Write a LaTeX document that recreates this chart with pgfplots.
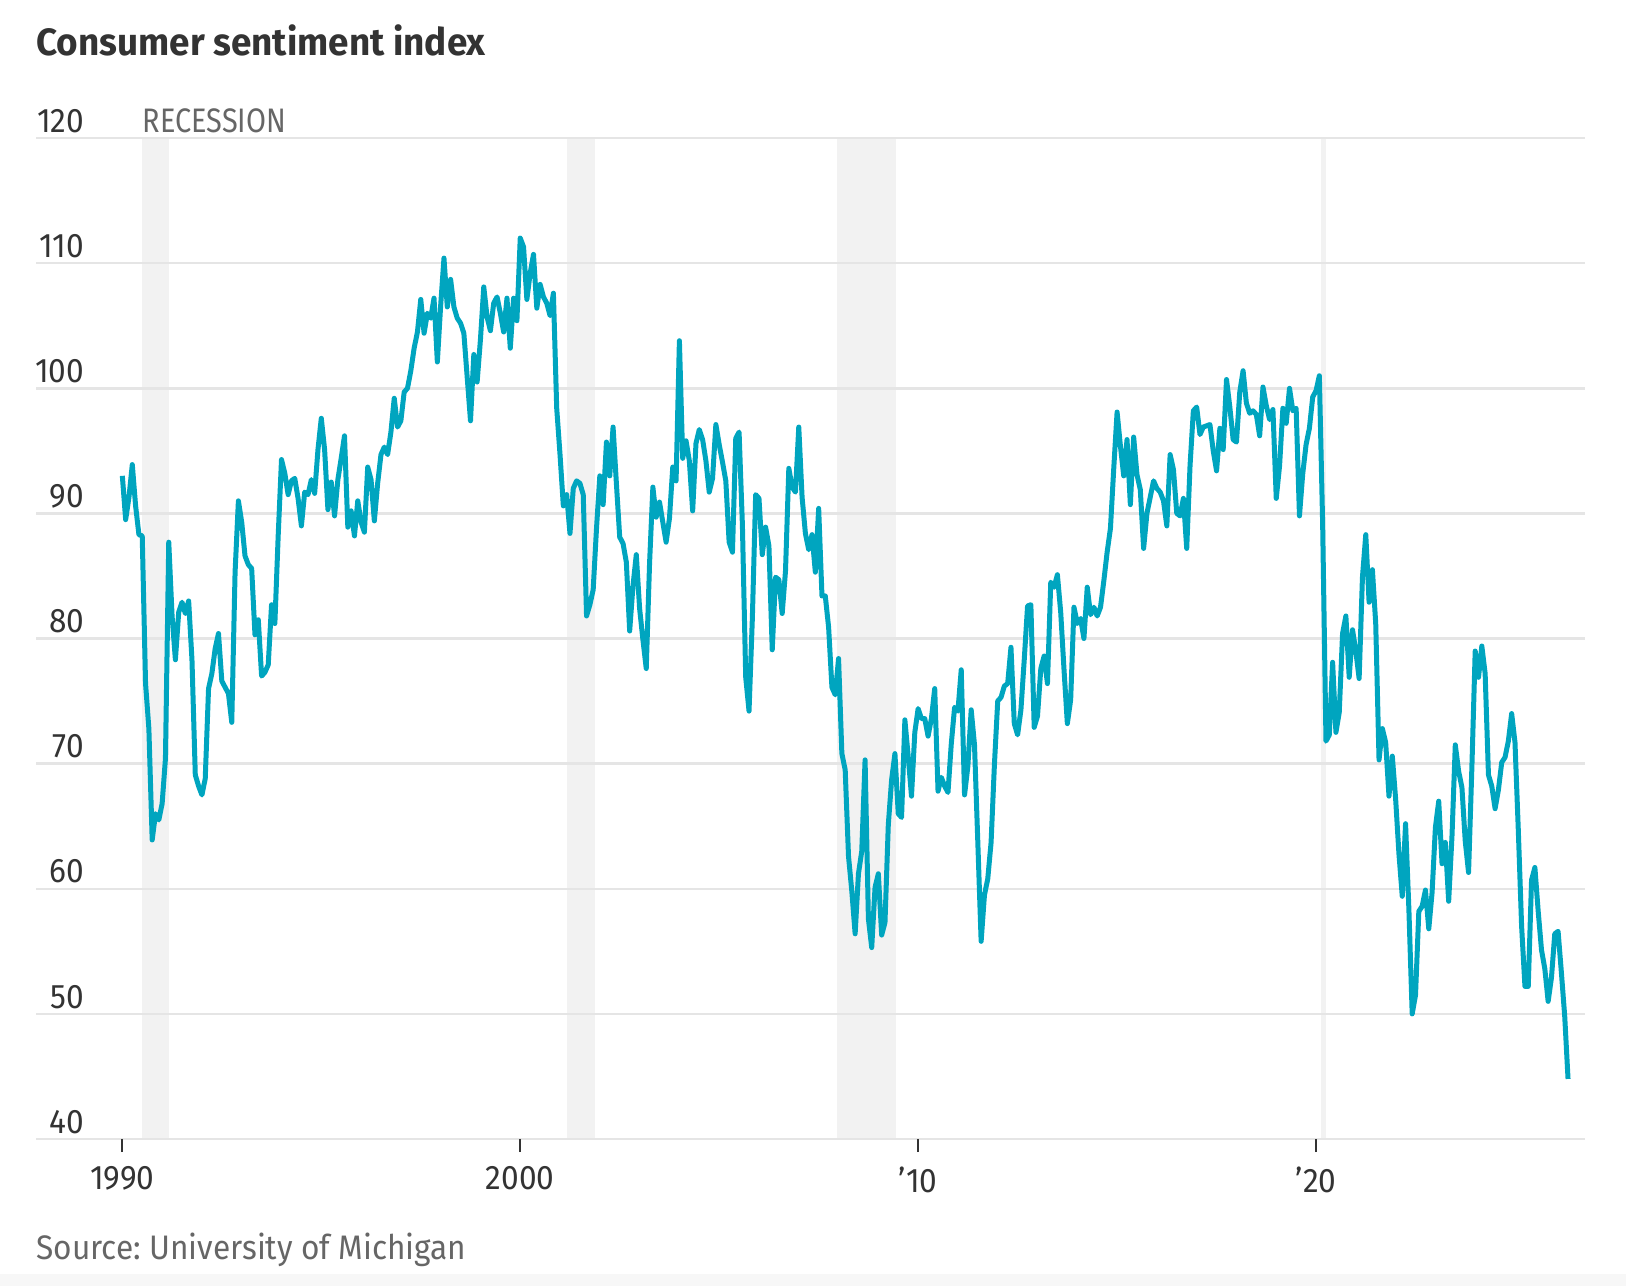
\documentclass[border=0pt]{standalone}
\usepackage{fontspec}
\setmainfont{Fira Sans}[FakeStretch=0.93]
\newfontfamily\capsfont{Fira Sans}[FakeStretch=0.85]
\newfontfamily\numfont{Fira Sans}[FakeStretch=0.93]
\newfontfamily\titlefont{Fira Sans}[FakeStretch=0.97]
\usepackage{pgfplots}
\usepackage{pgfplotstable}
\pgfplotsset{compat=1.18}
\frenchspacing
\definecolor{wsjteal}{HTML}{00A5BF}
\definecolor{recess}{HTML}{F2F2F2}
\definecolor{gridc}{HTML}{E5E5E5}
\definecolor{txt}{HTML}{333333}
\definecolor{txtl}{HTML}{666666}
\newcommand{\lblfont}{\numfont\fontsize{17}{17}\selectfont}
\pgfplotstableread{
v
93.0
89.5
91.3
93.9
90.6
88.3
88.2
76.4
72.8
63.9
66.0
65.5
66.8
70.4
87.7
81.8
78.3
82.1
82.9
82.0
83.0
78.3
69.1
68.2
67.5
68.8
76.0
77.2
79.2
80.4
76.6
76.1
75.6
73.3
85.3
91.0
89.3
86.6
85.9
85.6
80.3
81.5
77.0
77.3
77.9
82.7
81.2
88.2
94.3
93.2
91.5
92.6
92.8
91.2
89.0
91.7
91.5
92.7
91.6
95.1
97.6
95.1
90.3
92.5
89.8
92.7
94.4
96.2
88.9
90.2
88.2
91.0
89.3
88.5
93.7
92.7
89.4
92.4
94.7
95.3
94.7
96.5
99.2
96.9
97.4
99.7
100.0
101.4
103.2
104.5
107.1
104.4
106.0
105.6
107.2
102.1
106.6
110.4
106.5
108.7
106.5
105.6
105.2
104.4
100.9
97.4
102.7
100.5
103.9
108.1
105.7
104.6
106.8
107.3
106.0
104.5
107.2
103.2
107.2
105.4
112.0
111.3
107.1
109.2
110.7
106.4
108.3
107.3
106.8
105.8
107.6
98.4
94.7
90.6
91.5
88.4
92.0
92.6
92.4
91.5
81.8
82.7
83.9
88.8
93.0
90.7
95.7
93.0
96.9
92.4
88.1
87.6
86.1
80.6
84.2
86.7
82.4
79.9
77.6
86.0
92.1
89.7
90.9
89.3
87.7
89.6
93.7
92.6
103.8
94.4
95.8
94.2
90.2
95.6
96.7
95.9
94.2
91.7
92.8
97.1
95.5
94.1
92.6
87.7
86.9
96.0
96.5
89.1
76.9
74.2
81.6
91.5
91.2
86.7
88.9
87.4
79.1
84.9
84.7
82.0
85.4
93.6
92.1
91.7
96.9
91.3
88.4
87.1
88.3
85.3
90.4
83.4
83.4
80.9
76.1
75.5
78.4
70.8
69.5
62.6
59.8
56.4
61.2
63.0
70.3
57.6
55.3
60.1
61.2
56.3
57.3
65.1
68.7
70.8
66.0
65.7
73.5
70.6
67.4
72.5
74.4
73.6
73.6
72.2
73.6
76.0
67.8
68.9
68.2
67.7
71.6
74.5
74.2
77.5
67.5
69.8
74.3
71.5
63.7
55.8
59.5
60.8
63.7
69.9
75.0
75.3
76.2
76.4
79.3
73.2
72.3
74.3
78.3
82.6
82.7
72.9
73.8
77.6
78.6
76.4
84.5
84.1
85.1
82.1
77.5
73.2
75.1
82.5
81.2
81.6
80.0
84.1
81.9
82.5
81.8
82.5
84.6
86.9
88.8
93.6
98.1
95.4
93.0
95.9
90.7
96.1
93.1
91.9
87.2
90.0
91.3
92.6
92.0
91.7
91.0
89.0
94.7
93.5
90.0
89.8
91.2
87.2
93.8
98.2
98.5
96.3
96.9
97.0
97.1
95.0
93.4
96.8
95.1
100.7
98.5
95.9
95.7
99.7
101.4
98.8
98.0
98.2
97.9
96.2
100.1
98.6
97.5
98.3
91.2
93.8
98.4
97.2
100.0
98.2
98.4
89.8
93.2
95.5
96.8
99.3
99.8
101.0
89.1
71.8
72.3
78.1
72.5
74.1
80.4
81.8
76.9
80.7
79.0
76.8
84.9
88.3
82.9
85.5
81.2
70.3
72.8
71.7
67.4
70.6
67.2
62.8
59.4
65.2
58.4
50.0
51.5
58.2
58.6
59.9
56.8
59.7
64.9
67.0
62.0
63.7
59.0
64.2
71.5
69.4
68.1
63.8
61.3
69.7
79.0
76.9
79.4
77.2
69.1
68.2
66.4
67.9
70.1
70.5
71.8
74.0
71.7
64.7
57.0
52.2
52.2
60.7
61.7
58.2
55.1
53.6
51.0
52.9
56.4
56.6
53.3
49.8
44.8
}\sentiment
\pgfplotsset{common/.style={
  scale only axis, width=774.5pt, height=500.5pt,
  at={(0pt,0pt)}, anchor=south west,
  xmin=1987.83, xmax=2026.76, ymin=40, ymax=120}}
\begin{document}
\begin{tikzpicture}
\useasboundingbox (-18pt,-73.5pt) rectangle (795pt,569.5pt);
\fill[black!3] (-18pt,-73.5pt) rectangle (795pt,-67.5pt);
% recession bands
\begin{axis}[common, hide axis]
\addplot[fill=recess, draw=none] coordinates {(1990.5,40) (1990.5,120) (1991.17,120) (1991.17,40)} -- cycle;
\addplot[fill=recess, draw=none] coordinates {(2001.17,40) (2001.17,120) (2001.87,120) (2001.87,40)} -- cycle;
\addplot[fill=recess, draw=none] coordinates {(2007.95,40) (2007.95,120) (2009.45,120) (2009.45,40)} -- cycle;
\addplot[fill=recess, draw=none] coordinates {(2020.12,40) (2020.12,120) (2020.24,120) (2020.24,40)} -- cycle;
\end{axis}
% main axis
\begin{axis}[common,
  axis line style={draw=none},
  ytick={40,50,60,70,80,90,100,110,120},
  yticklabels={40,50,60,70,80,90,100,110,120},
  ymajorgrids, grid style={gridc, line width=1.25pt},
  ytick style={draw=none},
  yticklabel style={anchor=south east, inner sep=0pt, xshift=30.75pt, yshift=2.5pt, font=\lblfont, text=txt},
  xtick={1990,2000,2010,2020},
  xticklabels={1990,2000,’10,’20},
  tick pos=left, tick align=outside, major tick length=6.5pt,
  xtick style={draw=txt, line width=0.9pt},
  xticklabel style={anchor=north, inner sep=0pt, yshift=-7pt, font=\lblfont, text=txt},
]
\addplot[wsjteal, line width=2.5pt, line join=round, mark=none] table[x expr={1990+\coordindex/12}, y=v] {\sentiment};
\end{axis}
\node[anchor=south west, inner sep=0pt, text=txtl, font=\capsfont\fontsize{17}{17}\selectfont] at ({(1990.5-1987.83)/38.93*774.5pt},503pt) {RECESSION};
\node[anchor=base west, inner sep=0pt, text=txt, font=\titlefont\bfseries\fontsize{19}{19}\selectfont] at (0pt,541.5pt) {Consumer sentiment index};
\node[anchor=base west, inner sep=0pt, text=txtl, font=\fontsize{17}{17}\selectfont] at (0pt,-60pt) {Source: University of Michigan};
\end{tikzpicture}
\end{document}
